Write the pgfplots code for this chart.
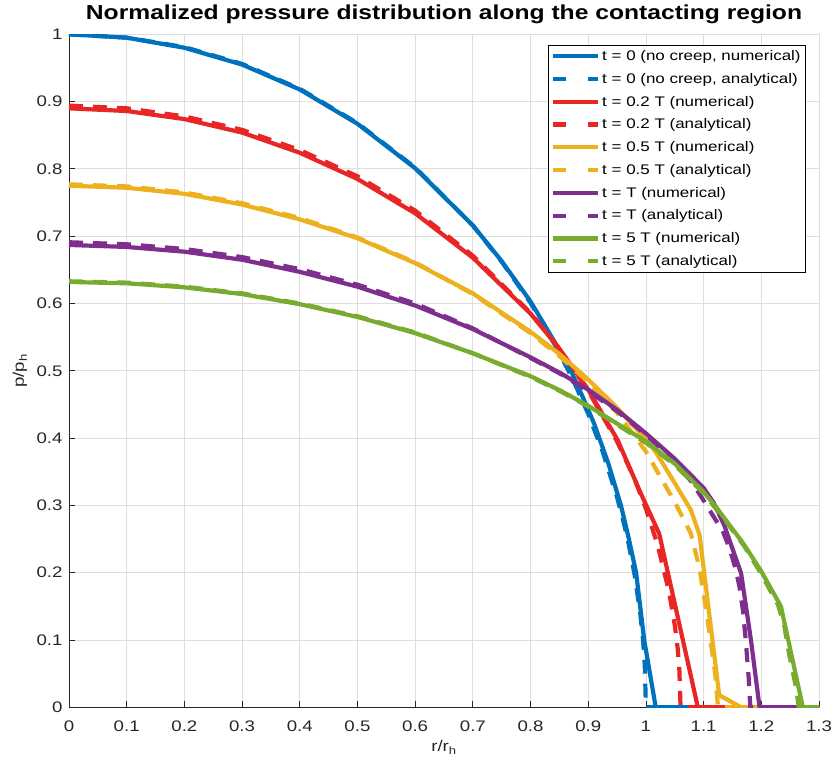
\documentclass[border=0pt]{standalone}
\usepackage{fontspec}
\setmainfont{Liberation Sans}[FakeStretch=1.22]
\usepackage{pgfplots}
\pgfplotsset{compat=1.18}
\definecolor{mblue}{rgb}{0,0.447,0.741}
\definecolor{mred}{RGB}{232,38,38}
\definecolor{myel}{rgb}{0.929,0.694,0.125}
\definecolor{mpur}{rgb}{0.494,0.184,0.556}
\definecolor{mgrn}{rgb}{0.466,0.674,0.188}
\pgfplotsset{
  dashleg/.style={legend image code/.code={\draw[##1, dash pattern=on 13pt off 22pt on 10pt off 0pt] (0pt,0pt) -- (45pt,0pt);}},
}
\begin{document}
\begin{tikzpicture}
\useasboundingbox (-69pt,-58.7pt) rectangle (764pt,707.3pt);
\begin{axis}[
  scale only axis, width=750pt, height=673pt,
  xmin=0, xmax=1.3, ymin=0, ymax=1,
  xtick={0,0.1,0.2,0.3,0.4,0.5,0.6,0.7,0.8,0.9,1,1.1,1.2,1.3},
  xticklabels={0,0.1,0.2,0.3,0.4,0.5,0.6,0.7,0.8,0.9,1,1.1,1.2,1.3},
  ytick={0,0.1,0.2,0.3,0.4,0.5,0.6,0.7,0.8,0.9,1},
  yticklabels={0,0.1,0.2,0.3,0.4,0.5,0.6,0.7,0.8,0.9,1},
  grid=major, major grid style={black!13, line width=0.8pt},
  axis x line*=bottom, axis y line*=left,
  axis line style={black!85, line width=0.8pt, -},
  tick align=inside, major tick length=6pt,
  tick style={black!85, line width=0.8pt},
  ticklabel style={font=\fontsize{15.3}{16}\selectfont, text=black!85},
  xticklabel style={yshift=-10pt},
  yticklabel style={xshift=-3pt},
  title={Normalized pressure distribution along the contacting region},
  title style={font=\bfseries\fontsize{20.2}{22}\selectfont, at={(0.5,1)}, anchor=base, yshift=9pt},
  xlabel={r/r\textsubscript{h}},
  ylabel={p/p\textsubscript{h}},
  label style={font=\fontsize{15.3}{16}\selectfont, text=black!85},
  xlabel style={at={(axis description cs:0.5,0)}, anchor=base, yshift=-44.5pt},
  ylabel style={at={(axis description cs:0,0.5)}, anchor=base, yshift=45pt},
  legend style={at={(0.9827,0.984)}, anchor=north east, draw=black, line width=0.8pt,
    fill=white, font=\fontsize{13.9}{15}\selectfont, row sep=7.2pt, inner sep=3pt,
    cells={anchor=west}},
  legend image code/.code={\draw[#1] (0pt,0pt) -- (45pt,0pt);},
  every axis plot/.append style={line width=4.2pt, line join=round},
]
% t = 0
\addplot[mblue] coordinates {(0,1.000)(0.1,0.995)(0.2,0.980)(0.3,0.955)(0.4,0.918)(0.5,0.867)(0.6,0.801)(0.7,0.716)(0.75,0.663)(0.8,0.603)(0.85,0.531)(0.87,0.500)(0.89,0.462)(0.91,0.422)(0.935,0.362)(0.957,0.299)(0.97,0.252)(0.983,0.200)(0.997,0.100)(1.017,0)(1.3,0)};
\addlegendentry{t = 0 (no creep, numerical)}
\addplot[mblue, dash pattern=on 14pt off 10pt, dashleg] coordinates {(0,1)(0.1,0.995)(0.2,0.981)(0.3,0.956)(0.4,0.919)(0.5,0.868)(0.6,0.802)(0.7,0.716)(0.75,0.662)(0.8,0.601)(0.85,0.527)(0.875,0.484)(0.9,0.436)(0.925,0.380)(0.95,0.312)(0.96,0.280)(0.97,0.243)(0.98,0.199)(0.99,0.141)(0.995,0.100)(0.998,0.063)(1.0,0)(1.3,0)};
\addlegendentry{t = 0 (no creep, analytical)}
% t = 0.2T
\addplot[mred] coordinates {(0,0.890)(0.1,0.886)(0.2,0.874)(0.3,0.854)(0.4,0.824)(0.5,0.785)(0.6,0.734)(0.7,0.668)(0.8,0.585)(0.85,0.533)(0.9,0.472)(0.951,0.397)(0.99,0.320)(1.023,0.258)(1.09,0)(1.3,0)};
\addlegendentry{t = 0.2 T (numerical)}
\addplot[mred, dash pattern=on 14pt off 10pt, dashleg] coordinates {(0,0.894)(0.1,0.890)(0.2,0.878)(0.3,0.858)(0.4,0.828)(0.5,0.789)(0.6,0.738)(0.7,0.671)(0.8,0.586)(0.85,0.533)(0.9,0.470)(0.95,0.395)(0.98,0.340)(1.0,0.295)(1.02,0.242)(1.04,0.172)(1.05,0.122)(1.055,0.088)(1.058,0.055)(1.06,0)(1.3,0)};
\addlegendentry{t = 0.2 T (analytical)}
% t = 0.5T
\addplot[myel] coordinates {(0,0.775)(0.1,0.772)(0.2,0.763)(0.3,0.747)(0.4,0.725)(0.5,0.697)(0.6,0.660)(0.7,0.615)(0.8,0.558)(0.85,0.525)(0.9,0.487)(0.95,0.445)(1.0,0.398)(1.018,0.378)(1.05,0.333)(1.078,0.293)(1.093,0.256)(1.127,0.018)(1.165,0)(1.3,0)};
\addlegendentry{t = 0.5 T (numerical)}
\addplot[myel, dash pattern=on 14pt off 10pt, dashleg] coordinates {(0,0.777)(0.1,0.774)(0.2,0.765)(0.3,0.749)(0.4,0.727)(0.5,0.698)(0.6,0.661)(0.7,0.614)(0.8,0.556)(0.85,0.522)(0.9,0.483)(0.95,0.438)(1.0,0.380)(1.018,0.353)(1.05,0.305)(1.078,0.258)(1.093,0.206)(1.107,0.13)(1.12,0.05)(1.125,0)(1.3,0)};
\addlegendentry{t = 0.5 T (analytical)}
% t = T
\addplot[mpur] coordinates {(0,0.687)(0.1,0.684)(0.2,0.677)(0.3,0.665)(0.4,0.647)(0.5,0.625)(0.6,0.597)(0.7,0.562)(0.8,0.520)(0.853,0.496)(0.9,0.472)(0.95,0.442)(1.0,0.407)(1.049,0.370)(1.1,0.326)(1.118,0.303)(1.136,0.270)(1.165,0.199)(1.182,0.100)(1.197,0)(1.3,0)};
\addlegendentry{t = T (numerical)}
\addplot[mpur, dash pattern=on 14pt off 10pt, dashleg] coordinates {(0,0.691)(0.1,0.688)(0.2,0.681)(0.3,0.669)(0.4,0.651)(0.5,0.628)(0.6,0.600)(0.7,0.563)(0.8,0.519)(0.853,0.495)(0.9,0.470)(0.95,0.440)(1.0,0.405)(1.05,0.366)(1.08,0.334)(1.104,0.302)(1.116,0.285)(1.133,0.262)(1.145,0.236)(1.155,0.207)(1.162,0.180)(1.168,0.145)(1.173,0.10)(1.178,0.045)(1.181,0)(1.3,0)};
\addlegendentry{t = T (analytical)}
% t = 5T
\addplot[mgrn] coordinates {(0,0.632)(0.1,0.630)(0.2,0.624)(0.3,0.614)(0.4,0.599)(0.5,0.580)(0.6,0.556)(0.7,0.526)(0.8,0.492)(0.853,0.470)(0.9,0.448)(1.0,0.395)(1.05,0.362)(1.1,0.320)(1.124,0.295)(1.136,0.281)(1.17,0.242)(1.2,0.202)(1.234,0.150)(1.272,0)(1.3,0)};
\addlegendentry{t = 5 T (numerical)}
\addplot[mgrn, dash pattern=on 14pt off 10pt, dashleg] coordinates {(0,0.633)(0.1,0.631)(0.2,0.625)(0.3,0.615)(0.4,0.600)(0.5,0.581)(0.6,0.557)(0.7,0.526)(0.8,0.491)(0.853,0.469)(0.9,0.447)(1.0,0.393)(1.05,0.360)(1.1,0.318)(1.136,0.279)(1.17,0.240)(1.2,0.198)(1.229,0.152)(1.24,0.12)(1.248,0.08)(1.26,0.03)(1.265,0)(1.3,0)};
\addlegendentry{t = 5 T (analytical)}
\end{axis}
\end{tikzpicture}
\end{document}
